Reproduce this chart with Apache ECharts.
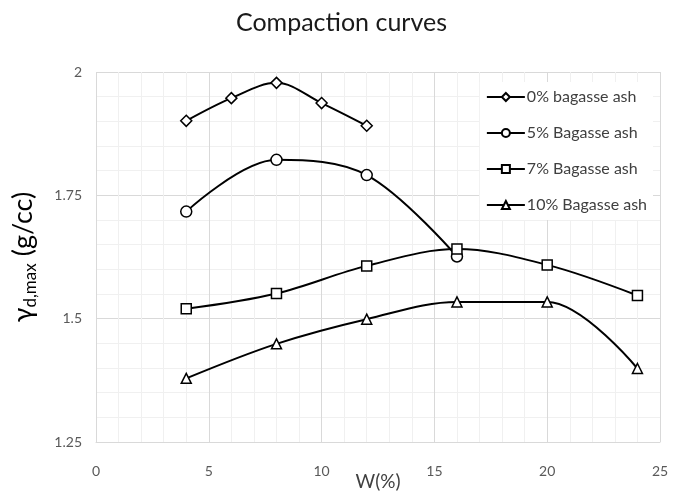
<!DOCTYPE html>
<html>
<head>
<meta charset="utf-8">
<script src="https://cdn.jsdelivr.net/npm/echarts@6/dist/echarts.min.js"></script>
<style>
  html, body { margin: 0; padding: 0; background: #fff; }
  #chart { width: 683px; height: 502px; }
</style>
</head>
<body>
<div id="chart"></div>
<script>
// water content (%) per series
const w0 = [4, 6, 8, 10, 12];
const wMix = [4, 8, 12, 16];
const wWide = [4, 8, 12, 16, 20, 24];

// dry density (g/cc)
const ash0 = [1.901, 1.947, 1.978, 1.937, 1.891];
const ash5 = [1.717, 1.822, 1.791, 1.626];
const ash7 = [1.520, 1.551, 1.607, 1.641, 1.609, 1.547];
const ash10 = [1.379, 1.449, 1.499, 1.534, 1.534, 1.399];

const seriesNames = ['0% bagasse ash', '5% Bagasse ash', '7% Bagasse ash', '10% Bagasse ash'];

const font = 'Lato, "Open Sans", sans-serif';
const chart = echarts.init(document.getElementById('chart'), null, { renderer: 'canvas' });

function pairs(xs, ys) {
  return xs.map((x, i) => [x, ys[i]]);
}

function curve(name, xs, ys, symbol, size) {
  return {
    name,
    type: 'line',
    smooth: 0.35,
    data: pairs(xs, ys),
    symbol,
    symbolSize: size,
    showAllSymbol: true,
    lineStyle: { color: '#000', width: 2 },
    itemStyle: { color: '#fff', borderColor: '#000', borderWidth: 1.5 },
    emphasis: { disabled: true },
    z: 3
  };
}

chart.setOption({
  animation: false,
  backgroundColor: '#fff',
  title: {
    text: 'Compaction curves',
    left: 'center',
    top: 5,
    textStyle: { fontFamily: font, fontSize: 25, fontWeight: 'normal', color: '#1a1a1a' }
  },
  legend: {
    right: 30,
    top: 82,
    orient: 'vertical',
    itemGap: 18,
    itemWidth: 38,
    itemHeight: 10,
    backgroundColor: '#fff',
    padding: [6, 6, 6, 6],
    textStyle: { fontFamily: font, fontSize: 16, lineHeight: 18, color: '#404040', padding: [0, 0, 0, -3] },
    data: seriesNames
  },
  grid: { left: 96, right: 23, top: 72, bottom: 60, containLabel: false, outerBoundsMode: 'none' },
  xAxis: {
    type: 'value',
    min: 0,
    max: 25,
    interval: 5,
    name: 'W(%)',
    nameLocation: 'middle',
    nameGap: 30,
    nameMoveOverlap: false,
    nameTextStyle: { fontFamily: font, fontSize: 19, color: '#404040' },
    axisLine: { show: true, lineStyle: { color: '#d9d9d9', width: 1 } },
    axisTick: { show: false },
    axisLabel: { fontFamily: font, fontSize: 14, color: '#595959', margin: 22 },
    splitLine: { show: true, lineStyle: { color: '#d9d9d9', width: 1 } },
    minorTick: { show: false, splitNumber: 5 },
    minorSplitLine: { show: true, lineStyle: { color: '#f0f0f0', width: 1 } }
  },
  yAxis: {
    type: 'value',
    min: 1.25,
    max: 2,
    interval: 0.25,
    name: '{g|γ}{s|d,max}{g| (g/cc)}',
    nameLocation: 'middle',
    nameGap: 57,
    nameRotate: 90,
    nameTextStyle: {
      color: '#000',
      rich: {
        g: { fontFamily: font, fontSize: 27, color: '#000', verticalAlign: 'middle', lineHeight: 32 },
        s: { fontFamily: font, fontSize: 17, color: '#000', verticalAlign: 'bottom', lineHeight: 32, padding: [12, 0, 0, 0] }
      }
    },
    axisLine: { show: false },
    axisTick: { show: false },
    axisLabel: {
      fontFamily: font, fontSize: 14, color: '#595959', margin: 14,
      formatter: (v) => String(parseFloat(v.toFixed(2)))
    },
    splitLine: { show: true, lineStyle: { color: '#d9d9d9', width: 1 } },
    minorTick: { show: false, splitNumber: 5 },
    minorSplitLine: { show: true, lineStyle: { color: '#f0f0f0', width: 1 } }
  },
  series: [
    curve(seriesNames[0], w0, ash0, 'diamond', 11),
    curve(seriesNames[1], wMix, ash5, 'circle', 11),
    curve(seriesNames[2], wWide, ash7, 'rect', 10),
    curve(seriesNames[3], wWide, ash10, 'triangle', 10)
  ]
});
</script>
</body>
</html>
